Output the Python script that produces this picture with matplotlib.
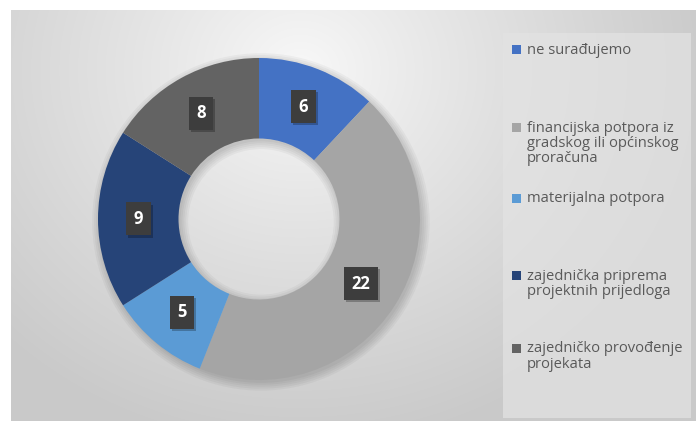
import numpy as np
import matplotlib
matplotlib.use("Agg")
import matplotlib.pyplot as plt
import matplotlib.patheffects as pe
from matplotlib.patches import Rectangle, Wedge

categories = ["ne surađujemo",
              "financijska potpora iz\ngradskog ili općinskog\nproračuna",
              "materijalna potpora",
              "zajednička priprema\nprojektnih prijedloga",
              "zajedničko provođenje\nprojekata"]
values = [6, 22, 5, 9, 8]
colors = ["#4472C4", "#A5A5A5", "#5B9BD5", "#264478", "#636363"]

W, H = 696, 421
fig = plt.figure(figsize=(W / 100, H / 100), dpi=100)
fig.patch.set_facecolor("white")

# background panel in pixel coordinates
bg = fig.add_axes([0, 0, 1, 1])
bg.set_xlim(0, W)
bg.set_ylim(H, 0)
bg.axis("off")
yy, xx = np.mgrid[0:H, 0:W]
d = np.sqrt(((xx - 300) / 1.0) ** 2 + ((yy - 70) / 0.9) ** 2)
t = np.clip(d / 420.0, 0, 1) ** 0.9
val = 0.975 - t * (0.975 - 0.79)
px0, py0 = 11, 10
img = np.ones((H, W, 3))
img[py0:, px0:, :] = val[py0:, px0:, None]
bg.imshow(img, extent=[0, W, H, 0], aspect="auto", interpolation="bilinear")

# legend box
bg.add_patch(Rectangle((503, 33), 188, 385, facecolor="#e3e3e3", edgecolor="none", alpha=0.7))

# donut
cx, cy, R = 259, 219, 161
pax = fig.add_axes([(cx - R) / W, (H - cy - R) / H, 2 * R / W, 2 * R / H])
pax.axis("off")
# soft shadow
for k in range(5):
    pax.add_patch(Wedge((0.012, -0.018), 1.0 + 0.012 * k, 0, 360, width=0.5 + 0.024 * k,
                        facecolor="#000000", alpha=0.035, edgecolor="none"))
wedges, _ = pax.pie(values, radius=1.0, startangle=90, counterclock=False,
                    colors=colors, wedgeprops=dict(width=0.5, edgecolor="none"))
pax.set_xlim(-1, 1)
pax.set_ylim(-1, 1)
for p in pax.patches:
    p.set_clip_on(False)

for w, v in zip(wedges, values):
    ang = np.deg2rad((w.theta1 + w.theta2) / 2)
    x, y = 0.75 * np.cos(ang), 0.75 * np.sin(ang)
    txt = pax.text(x, y, str(v), ha="center", va="center", fontsize=12,
                   fontweight="bold", family="Open Sans", color="white",
                   bbox=dict(boxstyle="square,pad=0.45", facecolor="#3d3d3d", edgecolor="none"))
    txt.get_bbox_patch().set_path_effects(
        [pe.SimplePatchShadow(offset=(1.5, -1.5), shadow_rgbFace="black", alpha=0.25), pe.Normal()])

# legend entries (y = centre of first line, in pixels)
entry_y = [49, 127, 198, 275, 348]
for lab, col, ey in zip(categories, colors, entry_y):
    bg.add_patch(Rectangle((512, ey - 4.5), 9, 9, facecolor=col, edgecolor="none"))
    bg.text(527, ey - 6.5, lab, ha="left", va="top", fontsize=10.6, family="Open Sans",
            color="#595959", linespacing=1.02)

fig.savefig("out.png", dpi=100, facecolor="white")
